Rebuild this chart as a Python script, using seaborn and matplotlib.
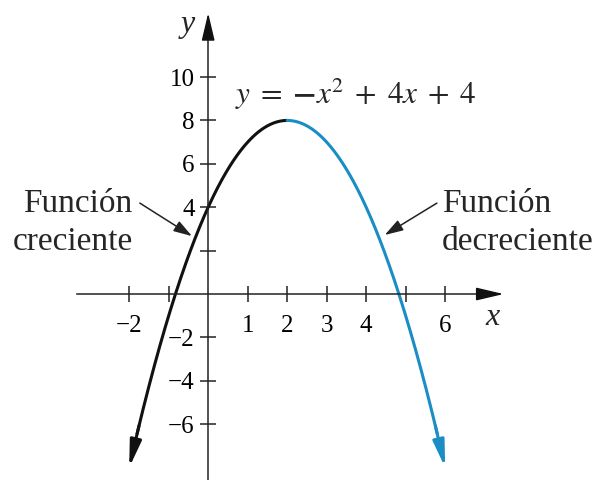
import numpy as np
import pandas as pd
import matplotlib
matplotlib.use("Agg")
import matplotlib.pyplot as plt
import seaborn as sns

# Parabola y = a*x^2 + b*x + c
coef_a, coef_b, coef_c = -1, 4, 4
vertex_x = 2
x_start, x_end = -2, 6

xtick_values = [-2, -1, 1, 2, 3, 4, 5, 6]
xtick_labels = ["−2", "", "1", "2", "3", "4", "", "6"]
ytick_values = [-6, -4, -2, 2, 4, 6, 8, 10]
ytick_labels = ["−6", "−4", "−2", "", "4", "6", "8", "10"]

segment_names = ["creciente", "decreciente"]
segment_colors = ["#111111", "#1b8dc5"]
equation_text = r"$y\;=\;\mathbf{-}x^2\;+\;4x\;+\;4$"
label_increasing = "Función\ncreciente"
label_decreasing = "Función\ndecreciente"

sns.set_theme(style="white")
plt.rcParams["font.family"] = ["Liberation Serif", "DejaVu Serif"]
plt.rcParams["mathtext.fontset"] = "stix"


def parabola(x):
    return coef_a * x ** 2 + coef_b * x + coef_c


# curve body, stopping a little short of each end where the arrowheads sit
trim = 0.2
xs_inc = np.linspace(x_start + trim, vertex_x, 200)
xs_dec = np.linspace(vertex_x, x_end - trim, 200)
df = pd.concat([
    pd.DataFrame({"x": xs_inc, "y": parabola(xs_inc), "tramo": segment_names[0]}),
    pd.DataFrame({"x": xs_dec, "y": parabola(xs_dec), "tramo": segment_names[1]}),
], ignore_index=True)

fig = plt.figure(figsize=(6.02, 4.8), dpi=100)
ax = fig.add_axes([0, 0, 1, 1])
ax.set_facecolor("white")

sns.lineplot(data=df, x="x", y="y", hue="tramo", palette=segment_colors,
             linewidth=2.2, legend=False, ax=ax, sort=False, estimator=None)

# arrowheads at both ends of the curve
for x0, x1, col in [(x_start + trim + 0.05, x_start, segment_colors[0]),
                    (x_end - trim - 0.05, x_end, segment_colors[1])]:
    ax.annotate("", xy=(x1, parabola(x1)), xytext=(x0, parabola(x0)),
                arrowprops=dict(arrowstyle="-|>,head_length=0.8,head_width=0.17",
                                mutation_scale=20, color=col, lw=2.2,
                                shrinkA=0, shrinkB=0))

# axes through the origin
ax.set_xlim(-5.27, 9.97)
ax.set_ylim(-8.57, 13.55)
for side in ["top", "right"]:
    ax.spines[side].set_visible(False)
ax.spines["left"].set_position(("data", 0))
ax.spines["bottom"].set_position(("data", 0))
ax.spines["bottom"].set_bounds(-3.32, 7.1)
ax.spines["left"].set_bounds(-8.6, 12.4)
for side in ["left", "bottom"]:
    ax.spines[side].set_color("#222222")
    ax.spines[side].set_linewidth(1.1)

ax.annotate("", xy=(7.48, 0), xytext=(7.0, 0),
            arrowprops=dict(arrowstyle="-|>,head_length=0.85,head_width=0.2",
                            mutation_scale=20, color="#111111", lw=1.1,
                            shrinkA=0, shrinkB=0))
ax.annotate("", xy=(0, 12.95), xytext=(0, 12.2),
            arrowprops=dict(arrowstyle="-|>,head_length=0.85,head_width=0.2",
                            mutation_scale=20, color="#111111", lw=1.1,
                            shrinkA=0, shrinkB=0))

ax.set_xticks(xtick_values)
ax.set_xticklabels(xtick_labels)
ax.set_yticks(ytick_values)
ax.set_yticklabels(ytick_labels)
ax.tick_params(axis="both", which="major", bottom=True, left=True,
               direction="inout", length=11.5, width=1.1,
               color="#222222", labelsize=18, labelcolor="black")
ax.tick_params(axis="x", pad=9.5)
ax.tick_params(axis="y", pad=4)
ax.set_xlabel("")
ax.set_ylabel("")
ax.grid(False)

# axis names
ax.text(-0.52, 12.4, "y", fontsize=23, style="italic", ha="center", va="center")
ax.text(7.2, -1.06, "x", fontsize=23, style="italic", ha="center", va="center")

# equation
ax.text(0.68, 8.76, equation_text, fontsize=22.5, ha="left", va="baseline")

# callouts
ax.text(-1.91, 3.27, label_increasing, fontsize=24, ha="right", va="center",
        multialignment="right", linespacing=1.32)
ax.annotate("", xy=(-0.41, 2.67), xytext=(-1.73, 4.19),
            arrowprops=dict(arrowstyle="-|>,head_length=0.7,head_width=0.22",
                            mutation_scale=16, color="#222222", lw=1.1,
                            shrinkA=0, shrinkB=0))
ax.text(5.91, 3.27, label_decreasing, fontsize=24, ha="left", va="center",
        multialignment="left", linespacing=1.32)
ax.annotate("", xy=(4.47, 2.72), xytext=(5.79, 4.19),
            arrowprops=dict(arrowstyle="-|>,head_length=0.7,head_width=0.22",
                            mutation_scale=16, color="#222222", lw=1.1,
                            shrinkA=0, shrinkB=0))

fig.savefig("out.png", dpi=100, facecolor="white")
